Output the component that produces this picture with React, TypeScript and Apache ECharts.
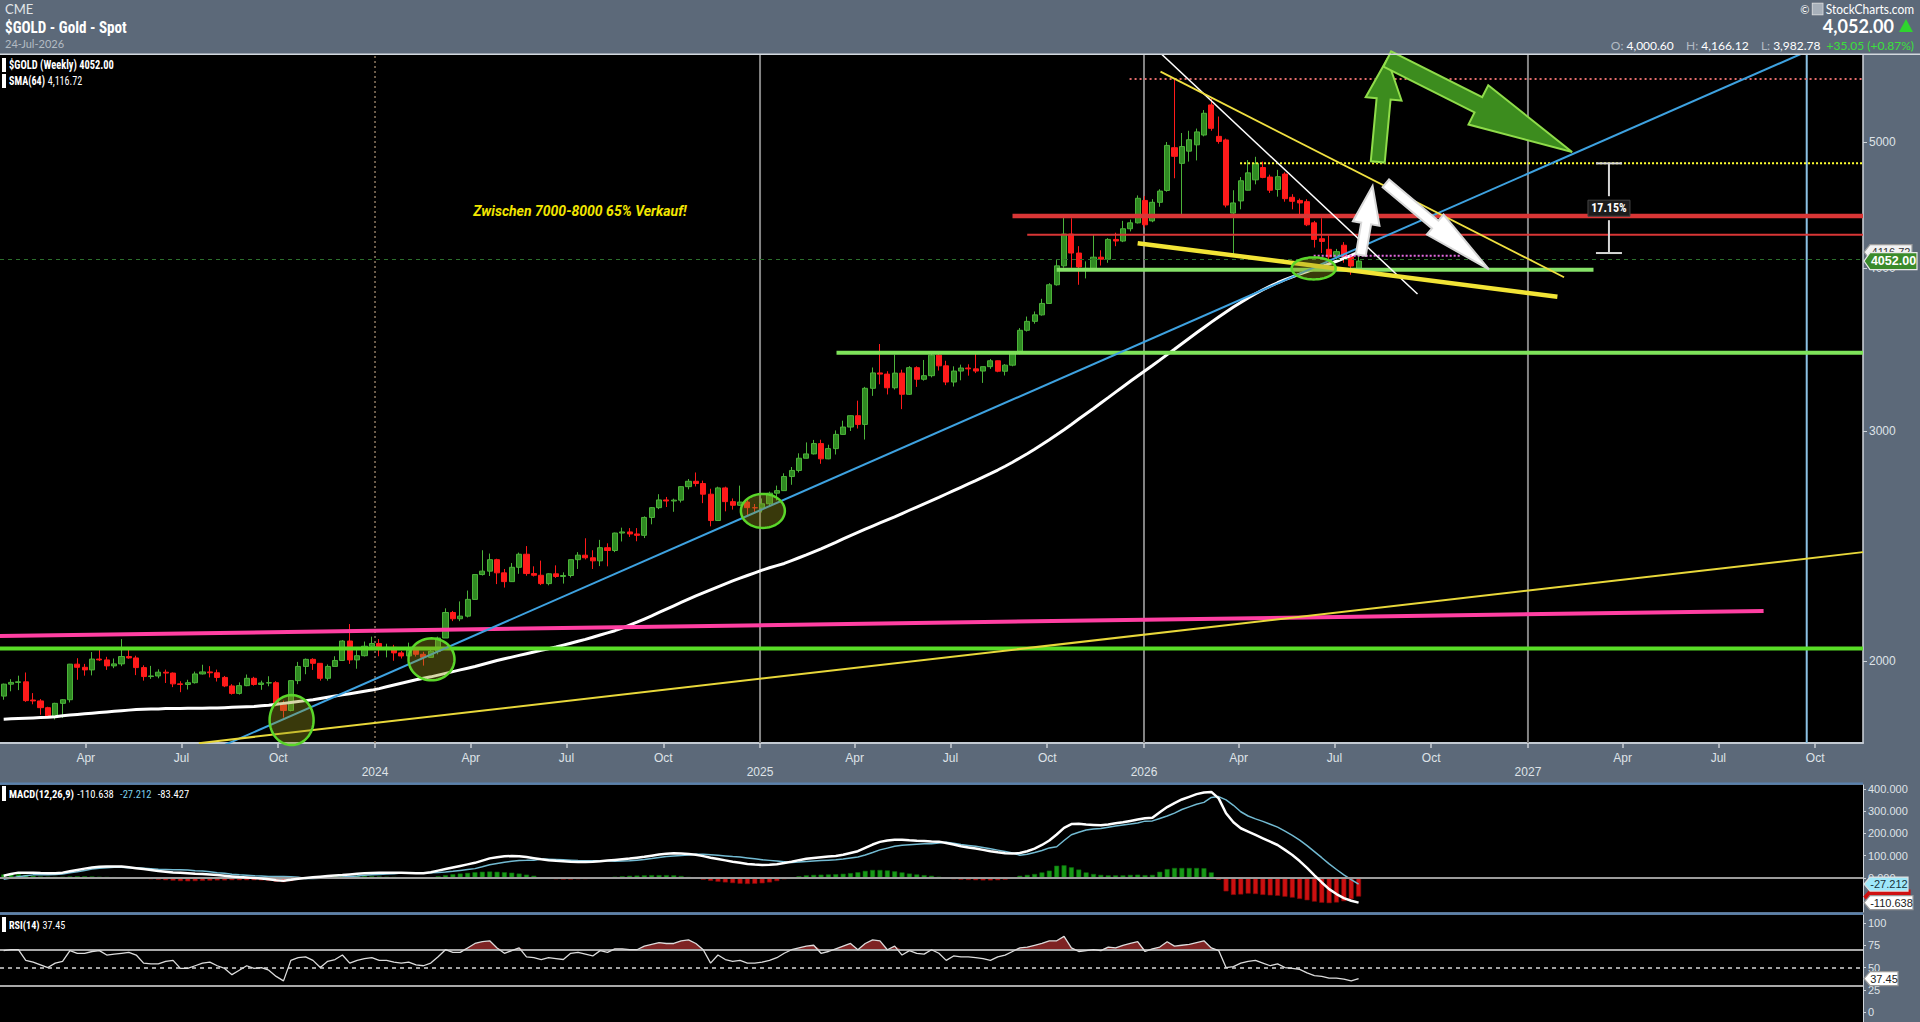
import React, { useEffect, useRef } from "react";
import * as echarts from "echarts";

// ---------------- time axis ----------------
const FIRST_WEEK = "2023-01-13"; // first weekly bar (Friday)
const SLOT_COUNT = 253; // weekly slots shown on the axis (bars + empty future)

// ---------------- weekly bars: [open, high, low, close] ----------------
const gold2023 = [
  [1880, 1922, 1868, 1920], [1920, 1937, 1896, 1926], [1926, 1949, 1900, 1928], [1928, 1960, 1861, 1865],
  [1867, 1890, 1853, 1864], [1864, 1870, 1819, 1842], [1842, 1845, 1809, 1811], [1811, 1858, 1804, 1856],
  [1856, 1870, 1809, 1868], [1868, 1990, 1859, 1989], [1989, 2010, 1935, 1978], [1978, 1990, 1949, 1969],
  [1969, 2032, 1950, 2007], [2007, 2048, 2000, 2004], [2004, 2015, 1969, 1983], [1983, 2009, 1975, 1990],
  [1990, 2079, 1982, 2016], [2016, 2048, 2008, 2011], [2011, 2019, 1951, 1977], [1977, 1985, 1932, 1946],
  [1946, 1983, 1938, 1948], [1948, 1971, 1940, 1961], [1961, 1970, 1924, 1958], [1958, 1960, 1910, 1921],
  [1921, 1930, 1893, 1919], [1919, 1935, 1902, 1925], [1925, 1963, 1922, 1955], [1955, 1987, 1953, 1962],
  [1962, 1982, 1943, 1959], [1959, 1970, 1929, 1943], [1943, 1948, 1910, 1914], [1914, 1920, 1885, 1889],
  [1889, 1926, 1885, 1915], [1915, 1953, 1913, 1940], [1940, 1945, 1915, 1919], [1919, 1932, 1901, 1924],
  [1924, 1947, 1913, 1925], [1925, 1930, 1846, 1852], [1852, 1865, 1810, 1833], [1833, 1933, 1830, 1932],
  [1932, 1997, 1920, 1981], [1981, 2009, 1954, 2006], [2006, 2010, 1969, 1992], [1992, 1993, 1932, 1940],
  [1940, 1988, 1932, 1981], [1981, 2017, 1980, 2002], [2002, 2075, 2000, 2072], [2072, 2135, 1990, 2004],
  [2004, 2047, 1973, 2019], [2019, 2070, 2016, 2053], [2053, 2088, 2040, 2063],
];
const gold2024 = [
  [2063, 2079, 2017, 2045], [2045, 2062, 2013, 2049], [2049, 2058, 2001, 2029], [2029, 2036, 2009, 2018],
  [2018, 2066, 2015, 2039], [2039, 2045, 2016, 2024], [2024, 2033, 1984, 2013], [2013, 2041, 2012, 2035],
  [2035, 2088, 2024, 2083], [2083, 2195, 2083, 2179], [2179, 2185, 2146, 2155], [2155, 2222, 2146, 2165],
  [2165, 2265, 2160, 2230], [2230, 2331, 2229, 2330], [2330, 2432, 2326, 2344], [2344, 2418, 2324, 2392],
  [2392, 2396, 2291, 2337], [2337, 2353, 2277, 2301], [2301, 2378, 2300, 2360], [2360, 2422, 2333, 2415],
  [2415, 2450, 2325, 2334], [2334, 2364, 2322, 2327], [2327, 2388, 2287, 2293], [2293, 2335, 2286, 2333],
  [2333, 2368, 2316, 2322], [2322, 2339, 2293, 2326], [2326, 2392, 2318, 2392], [2392, 2424, 2353, 2411],
  [2411, 2484, 2393, 2400], [2400, 2432, 2353, 2387], [2387, 2477, 2365, 2443], [2443, 2462, 2364, 2431],
  [2431, 2509, 2424, 2507], [2507, 2531, 2470, 2512], [2512, 2529, 2490, 2503], [2503, 2529, 2471, 2497],
  [2497, 2582, 2485, 2577], [2577, 2625, 2546, 2622], [2622, 2685, 2615, 2658], [2658, 2672, 2625, 2653],
  [2653, 2664, 2603, 2657], [2657, 2723, 2646, 2721], [2721, 2758, 2708, 2747], [2747, 2790, 2722, 2736],
  [2736, 2750, 2643, 2685], [2685, 2711, 2537, 2563], [2563, 2721, 2563, 2715], [2715, 2721, 2605, 2650],
  [2650, 2665, 2613, 2633], [2633, 2726, 2630, 2648], [2648, 2665, 2583, 2622], [2622, 2639, 2600, 2621],
];
const gold2025 = [
  [2621, 2665, 2600, 2640], [2640, 2697, 2630, 2690], [2690, 2726, 2656, 2702], [2702, 2786, 2700, 2770],
  [2770, 2817, 2730, 2800], [2800, 2886, 2790, 2861], [2861, 2942, 2860, 2883], [2883, 2955, 2880, 2936],
  [2936, 2956, 2833, 2858], [2858, 2930, 2856, 2910], [2910, 3005, 2880, 2984], [2984, 3057, 2982, 3023],
  [3023, 3086, 3002, 3084], [3084, 3167, 3015, 3037], [3037, 3245, 2957, 3237], [3237, 3358, 3194, 3326],
  [3326, 3500, 3260, 3319], [3319, 3336, 3202, 3240], [3240, 3435, 3230, 3325], [3325, 3345, 3120, 3203],
  [3203, 3366, 3200, 3357], [3357, 3365, 3245, 3289], [3289, 3403, 3281, 3310], [3310, 3446, 3300, 3432],
  [3432, 3452, 3340, 3368], [3368, 3398, 3255, 3273], [3273, 3365, 3247, 3337], [3337, 3375, 3283, 3355],
  [3355, 3377, 3310, 3350], [3350, 3439, 3325, 3337], [3337, 3363, 3268, 3363], [3363, 3409, 3350, 3398],
  [3398, 3400, 3330, 3336], [3336, 3378, 3311, 3372], [3372, 3453, 3365, 3448], [3448, 3600, 3437, 3586],
  [3586, 3674, 3578, 3643], [3643, 3707, 3628, 3685], [3685, 3791, 3680, 3760], [3760, 3897, 3757, 3886],
  [3886, 4059, 3880, 4018], [4018, 4380, 4005, 4250], [4250, 4370, 4004, 4110], [4110, 4160, 3886, 4010],
  [3985, 4050, 3930, 4000], [3990, 4245, 3985, 4080], [4080, 4130, 4020, 4065], [4065, 4220, 4040, 4210],
  [4210, 4260, 4160, 4198], [4198, 4350, 4190, 4290], [4290, 4360, 4270, 4335], [4335, 4550, 4330, 4527],
];
const gold2026 = [
  [4510, 4545, 4300, 4320], [4350, 4520, 4340, 4495], [4495, 4600, 4460, 4585], [4590, 5000, 4580, 4970],
  [4950, 5580, 4690, 4875], [4815, 5080, 4400, 4960], [4920, 5100, 4830, 5020], [4975, 5120, 4840, 5090],
  [5062, 5290, 5050, 5260], [5338, 5400, 5100, 5122], [5050, 5230, 4985, 5005], [5018, 5030, 4455, 4473],
  [4410, 4592, 4082, 4490], [4506, 4700, 4440, 4669], [4592, 4843, 4590, 4735], [4677, 4871, 4640, 4815],
  [4780, 4830, 4690, 4697], [4700, 4720, 4570, 4592], [4598, 4760, 4540, 4703], [4725, 4740, 4500, 4524],
  [4535, 4560, 4440, 4503], [4510, 4525, 4398, 4490], [4500, 4520, 4310, 4320], [4335, 4350, 4150, 4210],
  [4215, 4370, 4110, 4195], [4137, 4240, 4040, 4082], [4082, 4140, 4050, 4120], [4167, 4190, 4040, 4082],
  [4082, 4100, 3955, 4016.95], [4000.6, 4166.12, 3982.78, 4052.0],
];

// ---------------- SMA(64) ----------------
const sma2023 = [
  1805, 1806, 1807, 1808, 1809, 1810, 1811, 1813, 1816, 1818, 1820, 1822, 1824, 1826, 1828, 1830, 1832, 1834,
  1836, 1837, 1838, 1838, 1839, 1839, 1839, 1840, 1840, 1840, 1841, 1841, 1842, 1843, 1844, 1845, 1846, 1848,
  1850, 1853, 1856, 1859, 1862, 1865, 1868, 1872, 1876, 1880, 1884, 1888, 1892, 1896, 1900,
];
const sma2024 = [
  1905, 1911, 1917, 1923, 1929, 1935, 1940, 1945, 1951, 1957, 1963, 1969, 1975, 1981, 1988, 1995, 2002, 2008,
  2014, 2020, 2026, 2032, 2038, 2044, 2050, 2057, 2064, 2071, 2078, 2086, 2094, 2102, 2110, 2120, 2131, 2142,
  2154, 2166, 2179, 2192, 2205, 2218, 2231, 2244, 2256, 2268, 2280, 2292, 2304, 2315, 2326, 2337,
];
const sma2025 = [
  2348, 2358, 2367, 2376, 2388, 2400, 2412, 2425, 2438, 2452, 2466, 2481, 2496, 2510, 2524, 2538, 2552, 2566,
  2580, 2595, 2610, 2625, 2640, 2655, 2670, 2686, 2702, 2718, 2734, 2750, 2767, 2784, 2802, 2821, 2841, 2862,
  2884, 2907, 2931, 2956, 2982, 3009, 3037, 3066, 3095, 3124, 3154, 3184, 3215, 3246, 3277, 3308,
];
const sma2026 = [
  3339, 3370, 3402, 3435, 3468, 3502, 3536, 3570, 3604, 3638, 3671, 3704, 3736, 3767, 3797, 3825, 3852, 3877,
  3900, 3921, 3941, 3960, 3978, 3996, 4014, 4032, 4051, 4071, 4093, 4116.72,
];

// ---------------- MACD(12,26,9): line and histogram ----------------
const macd2023 = [
  10, 18, 24, 24, 24, 22, 21, 21, 24, 30, 36, 42, 47, 50, 51, 52, 51, 48, 44, 40, 36, 31, 28, 25, 23, 21, 19, 18,
  16, 13, 10, 7, 4, 2, 0, -2, -6, -10, -12, -8, -3, 0, 3, 6, 9, 11, 13, 16, 19, 21, 22,
];
const macd2024 = [
  23, 24, 24, 23, 22, 21, 21, 26, 33, 40, 47, 54, 61, 68, 78, 88, 93, 97, 99, 98, 94, 89, 84, 80, 77, 75, 73, 72,
  72, 73, 75, 78, 81, 84, 87, 91, 95, 100, 105, 109, 111, 110, 108, 104, 98, 91, 85, 79, 73, 68, 63, 60,
];
const macd2025 = [
  58, 59, 62, 67, 73, 80, 86, 90, 93, 96, 99, 104, 112, 120, 135, 150, 162, 168, 172, 172, 169, 167, 166, 164, 163,
  157, 150, 142, 137, 132, 126, 120, 115, 111, 110, 112, 120, 132, 148, 168, 195, 225, 242, 243, 240, 238, 236,
  240, 245, 250, 256, 262,
];
const macd2026 = [
  268, 270, 295, 318, 336, 352, 364, 376, 383, 386, 357, 290, 250, 223, 208, 193, 178, 163, 148, 126, 103, 76, 45,
  12, -20, -50, -72, -90, -102, -110.6384,
];
const hist2023 = [
  16, 18, 18, 14, 10, 7, 6, 5, 6, 7, 8, 8, 7, 6, 5, 4, 3, 2, -2, -4, -6, -8, -10, -12, -14, -15, -14, -13, -12, -11,
  -11, -10, -10, -10, -10, -11, -13, -17, -19, -14, -6, 2, 5, 7, 8, 9, 9, 9, 10, 9, 8,
];
const hist2024 = [
  7, 6, 5, 1, -1, -3, -3, 2, 8, 13, 17, 20, 23, 26, 28, 29, 28, 26, 24, 20, 15, 10, -1, -4, -6, -7, -7, -6, -5, -4,
  -2, 1, 6, 8, 10, 11, 12, 13, 13, 13, 12, 9, 5, -2, -8, -13, -17, -20, -23, -26, -27, -26,
];
const hist2025 = [
  -24, -20, -14, -6, 3, 8, 12, 14, 15, 16, 17, 19, 22, 26, 32, 36, 36, 34, 30, 25, 20, 16, 13, 10, 6, -3, -6, -8,
  -9, -10, -11, -11, -10, -8, -2, 10, 14, 18, 25, 33, 55, 57, 48, 38, 25, 18, 14, 12, 12, 12, 14, 15,
];
const hist2026 = [
  13, 14, 28, 40, 45, 45, 45, 45, 44, 25, -8, -60, -76, -74, -70, -72, -76, -78, -80, -84, -88, -94, -100, -106,
  -111, -113, -110, -104, -95, -83.4268,
];

// ---------------- RSI(14) ----------------
const rsi2023 = [
  69, 70, 70, 58, 56, 53, 50, 55, 57, 69, 66, 66, 68, 69, 64, 65, 66, 67, 64, 55, 54, 54, 57, 58, 49, 49, 52, 55,
  56, 52, 49, 42, 47, 52, 49, 50, 47, 40, 35, 58, 61, 62, 58, 50, 57, 59, 64, 55, 58, 60, 61,
];
const rsi2024 = [
  58, 58, 56, 55, 56, 53, 52, 55, 62, 70, 67, 67, 72, 77, 79, 80, 72, 66, 69, 72, 62, 61, 59, 61, 60, 59, 66, 67,
  65, 63, 69, 67, 71, 71, 70, 70, 74, 76, 78, 77, 77, 80, 81, 77, 70, 55, 64, 59, 57, 58, 55, 55,
];
const rsi2025 = [
  56, 58, 61, 66, 70, 72, 74, 75, 66, 68, 71, 74, 77, 70, 77, 81, 80, 70, 74, 64, 69, 66, 65, 70, 66, 58, 63, 62,
  62, 61, 60, 58, 62, 64, 68, 72, 73, 75, 77, 80, 80, 85, 72, 68, 69, 70, 69, 73, 72, 75, 77, 79,
];
const rsi2026 = [
  68, 71, 73, 79, 74, 75, 76, 78, 80, 72, 69, 50, 51, 55, 57, 58, 55, 52, 54, 50, 49, 48, 44, 41, 40, 38, 38, 37,
  35, 37.45,
];

// ---------------- axes ----------------
const priceTicks = [2000, 3000, 4000, 5000];
const macdTicks = [0, 100, 200, 300, 400];
const rsiTicks = [0, 25, 50, 75, 100];
const PRICE_RANGE = [1730.6, 5830];
const MACD_RANGE = [-152.5, 417];
const RSI_RANGE = [-11.2, 109];

// ---------------- drawn annotations (x = week number, 0 = 2023-01-13; y = price) ----------------
const yearLineDates = ["2024-01-01", "2025-01-01", "2026-01-01", "2027-01-01"];
const cycleLineDate = "2027-09-23";
const supportBase = { from: -0.5, price: 2045 };
const supportBreakout = { from: 113.1, price: 3447 };
const supportNeck = { from: 143.0, to: 215.9, price: 3990 };
const resistThick = { from: 137.0, price: 4388 };
const resistThin = { from: 139.0, price: 4245 };
const highDotted = { from: 152.9, price: 5588 };
const targetDotted = { from: 167.9, price: 4815 };
const pinkDotted = { from: 177.9, to: 197.8, price: 4091 };
const pinkTrend = [[-0.5, 2090], [239, 2185]];
const blueTrend = [[28, 1705], [250, 6041]];
const yellowLongTrend = [[26.5, 1730], [252.5, 2424]];
const whiteDownTrend = [[156.5, 5892], [192, 3823]];
const yellowDownTrend = [[157.1, 5661], [211.9, 3938]];
const yellowWedge = [[154, 4182], [211, 3805]];
const ellipseCentres = [[39.1, 1802], [58.1, 2006], [103.1, 2607], [177.9, 4000]];
const arrowPaths = [
  [[186.6, 4827], [187.9, 5789]],
  [[187.9, 5789], [213.0, 4912]],
  [[184.3, 4096], [185.9, 4626]],
  [[187.7, 4648], [201.7, 3993]],
];
const moveMeasure = { week: 218, top: 4815, bottom: 4110 };
const noteText = "Zwischen 7000-8000 65% Verkauf!";

// ---------------- styles ----------------
const FONT = '"Roboto Condensed", Roboto, "Noto Sans", sans-serif';
const ARIAL = '"Liberation Sans", Arial, "DejaVu Sans", sans-serif';
const HEAD_FONT = 'Lato, "Noto Sans", Roboto, sans-serif';
const BAND = "#5c6979";
const ELLIPSE_RADII = [[22, 25], [23, 21], [22, 17], [22, 11]];
const ARROW_STYLES = [
  { shaft: 14, headW: 36, headL: 40, fill: "#3c8c1e", stroke: "#8fdc4a" },
  { shaft: 17, headW: 44, headL: 105, fill: "#3c8c1e", stroke: "#8fdc4a" },
  { shaft: 10, headW: 27, headL: 38, fill: "#ffffff", stroke: "#d8d8d8" },
  { shaft: 10, headW: 26, headL: 70, fill: "#ffffff", stroke: "#d8d8d8" },
];

// ---------------- helpers ----------------
const LN = Math.log;
const DAY = 86400000;
const parseDay = (s: string) => {
  const [y, m, d] = s.split("-").map(Number);
  return Date.UTC(y, m - 1, d);
};
const T0 = parseDay(FIRST_WEEK);
const weekPos = (s: string) => (parseDay(s) - T0) / (7 * DAY);
const weekDate = (i: number) => new Date(T0 + i * 7 * DAY).toISOString().slice(0, 10);
const MONTHS = ["Jan", "Feb", "Mar", "Apr", "May", "Jun", "Jul", "Aug", "Sep", "Oct", "Nov", "Dec"];
const fmt = (v: number, d = 2) =>
  v.toLocaleString("en-US", { minimumFractionDigits: d, maximumFractionDigits: d });

function buildOption() {
  const rows = [...gold2023, ...gold2024, ...gold2025, ...gold2026];
  const sma = [...sma2023, ...sma2024, ...sma2025, ...sma2026];
  const macd = [...macd2023, ...macd2024, ...macd2025, ...macd2026];
  const hist = [...hist2023, ...hist2024, ...hist2025, ...hist2026];
  const signal = macd.map((m, i) => m - hist[i]);
  const rsi = [...rsi2023, ...rsi2024, ...rsi2025, ...rsi2026];
  const cats = Array.from({ length: SLOT_COUNT }, (_, i) => weekDate(i));
  const X_MIN = -0.5;
  const X_MAX = SLOT_COUNT - 0.5;
  const yMin = LN(PRICE_RANGE[0]);
  const yMax = LN(PRICE_RANGE[1]);
  const n = rows.length;
  const last = rows[n - 1];
  const prevClose = rows[n - 2][3];
  const change = last[3] - prevClose;
  const changePct = (change / prevClose) * 100;
  const lastDate = new Date(T0 + (n - 1) * 7 * DAY);
  const dateLabel = `${String(lastDate.getUTCDate()).padStart(2, "0")}-${MONTHS[lastDate.getUTCMonth()]}-${lastDate.getUTCFullYear()}`;

  // quarter marks for the date axis
  const quarterMarks: { pos: number; label: string }[] = [];
  for (let y = 2023; y <= 2027; y++) {
    for (const m of [0, 3, 6, 9]) {
      const pos = weekPos(`${y}-${String(m + 1).padStart(2, "0")}-01`);
      if (pos > X_MIN && pos < X_MAX) quarterMarks.push({ pos, label: m === 0 ? `\n${y}` : MONTHS[m] });
    }
  }
  const qVals = quarterMarks.map((q) => q.pos);

  const lineS = (pts: number[][], style: any, z = 5) => ({
    type: "line",
    xAxisIndex: 1,
    yAxisIndex: 0,
    data: pts.map(([w, p]) => [w, LN(p)]),
    symbol: "none",
    silent: true,
    clip: true,
    lineStyle: style,
    z,
  });
  const levelS = (lv: { from: number; to?: number; price: number }, style: any, z = 5) =>
    lineS([[lv.from, lv.price], [lv.to ?? X_MAX, lv.price]], style, z);

  const tagSeries = (xAxisIndex: number, yAxisIndex: number, tags: any[], toAxis: (v: number) => number) => ({
    type: "custom",
    xAxisIndex,
    yAxisIndex,
    clip: false,
    silent: true,
    z: 30,
    data: tags.map((t) => [0, toAxis(t.value)]),
    renderItem: (params: any, api: any) => {
      const t = tags[params.dataIndex];
      const y = api.coord([0, api.value(1)])[1];
      const x0 = params.coordSys.x + params.coordSys.width + 1;
      const w = t.w;
      const h = t.h;
      const children: any[] = [
        {
          type: "polygon",
          shape: { points: [[x0, y], [x0 + 6, y - h / 2], [x0 + w, y - h / 2], [x0 + w, y + h / 2], [x0 + 6, y + h / 2]] },
          style: { fill: t.bg, stroke: t.border, lineWidth: 1.2 },
        },
      ];
      if (t.text) {
        children.push({
          type: "text",
          style: {
            text: t.text,
            x: x0 + 3 + w / 2,
            y,
            align: "center",
            verticalAlign: "middle",
            fill: t.color,
            fontSize: t.size,
            fontWeight: t.bold ? "bold" : "normal",
            fontFamily: ARIAL,
          },
        });
      }
      return { type: "group", children };
    },
  });

  const axisLabelStyle = { color: "#dfe3e8", fontFamily: ARIAL };
  const txt = (text: string, x: number, y: number, style: any, scaleX = 1) => ({
    type: "text",
    z: 100,
    silent: true,
    x,
    y,
    scaleX,
    style: { text, x: 0, y: 0, verticalAlign: "middle", ...style },
  });

  return {
    animation: false,
    backgroundColor: BAND,
    textStyle: { fontFamily: ARIAL },
    grid: [
      { left: -2, right: 57, top: 55, height: 688, show: true, backgroundColor: "#000", borderWidth: 0 },
      { left: -2, right: 57, top: 785, height: 127, show: true, backgroundColor: "#000", borderWidth: 0 },
      { left: -2, right: 57, top: 915, height: 107, show: true, backgroundColor: "#000", borderWidth: 0 },
    ],
    xAxis: [
      { type: "category", gridIndex: 0, data: cats, show: false, position: "bottom", boundaryGap: true },
      {
        type: "value",
        gridIndex: 0,
        position: "bottom",
        min: X_MIN,
        max: X_MAX,
        axisLine: { show: true, onZero: false, lineStyle: { color: "#c3cad2", width: 2 } },
        axisTick: { show: true, customValues: qVals, length: 5, lineStyle: { color: "#c8ced4", width: 1.5 } },
        splitLine: { show: false },
        axisLabel: {
          ...axisLabelStyle,
          customValues: qVals,
          fontSize: 12,
          lineHeight: 14,
          margin: 8,
          hideOverlap: false,
          formatter: (v: number) => {
            const q = quarterMarks.find((m) => Math.abs(m.pos - v) < 1e-6);
            return q ? q.label : "";
          },
        },
      },
      { type: "category", gridIndex: 1, data: cats, show: false, position: "bottom" },
      { type: "category", gridIndex: 2, data: cats, show: false, position: "bottom" },
    ],
    yAxis: [
      {
        type: "value",
        gridIndex: 0,
        position: "right",
        min: yMin,
        max: yMax,
        splitLine: { show: false },
        axisLine: { show: true, onZero: false, lineStyle: { color: "#cfd5db", width: 1.5 } },
        axisTick: { show: true, customValues: priceTicks.map(LN), length: 4, lineStyle: { color: "#cfd5db" } },
        axisLabel: {
          ...axisLabelStyle,
          fontSize: 12,
          margin: 6,
          customValues: priceTicks.map(LN),
          formatter: (v: number) => String(Math.round(Math.exp(v))),
        },
      },
      {
        type: "value",
        gridIndex: 1,
        position: "right",
        min: MACD_RANGE[0],
        max: MACD_RANGE[1],
        splitLine: { show: false },
        axisLine: { show: true, onZero: false, lineStyle: { color: "#cfd5db", width: 1 } },
        axisTick: { show: true, customValues: macdTicks, length: 3, lineStyle: { color: "#cfd5db" } },
        axisLabel: { ...axisLabelStyle, fontSize: 11, margin: 5, customValues: macdTicks, formatter: (v: number) => v.toFixed(3) },
      },
      {
        type: "value",
        gridIndex: 2,
        position: "right",
        min: RSI_RANGE[0],
        max: RSI_RANGE[1],
        splitLine: { show: false },
        axisLine: { show: true, onZero: false, lineStyle: { color: "#cfd5db", width: 1 } },
        axisTick: { show: true, customValues: rsiTicks, length: 3, lineStyle: { color: "#cfd5db" } },
        axisLabel: { ...axisLabelStyle, fontSize: 11, margin: 5, customValues: rsiTicks, formatter: (v: number) => String(v) },
      },
    ],
    series: [
      // year separators
      ...yearLineDates.map((d, k) =>
        lineS(
          [[weekPos(d), PRICE_RANGE[0]], [weekPos(d), PRICE_RANGE[1]]],
          k === 0 ? { color: "#8f7a62", width: 1.5, type: [2, 3] } : { color: "#838383", width: 2 },
          1
        )
      ),
      lineS([[weekPos(cycleLineDate), PRICE_RANGE[0]], [weekPos(cycleLineDate), PRICE_RANGE[1]]], { color: "#8cc2e4", width: 2 }, 1),
      // candles
      {
        type: "candlestick",
        name: "$GOLD",
        xAxisIndex: 0,
        yAxisIndex: 0,
        data: rows.map(([o, h, l, c]) => [LN(o), LN(c), LN(l), LN(h)]),
        barWidth: 5.6,
        z: 3,
        itemStyle: { color: "#2f8a22", color0: "#ff1a1a", borderColor: "#4cb23a", borderColor0: "#ff1a1a", borderWidth: 1 },
        markLine: {
          silent: true,
          symbol: "none",
          label: { show: false },
          lineStyle: { color: "#2c6e2c", type: [4, 4], width: 1 },
          data: [{ yAxis: LN(last[3]) }],
        },
      },
      // SMA
      {
        type: "line",
        name: "SMA(64)",
        xAxisIndex: 0,
        yAxisIndex: 0,
        data: sma.map(LN),
        symbol: "none",
        silent: true,
        z: 4,
        lineStyle: { color: "#ffffff", width: 3 },
      },
      // horizontal levels
      lineS(pinkTrend, { color: "#ff3fa2", width: 4 }),
      levelS(supportBase, { color: "#58dc26", width: 4 }),
      levelS(supportBreakout, { color: "#7ee35a", width: 4 }),
      levelS(supportNeck, { color: "#86e268", width: 4 }),
      levelS(resistThick, { color: "#d93636", width: 4.5 }),
      levelS(resistThin, { color: "#d93636", width: 2 }),
      levelS(highDotted, { color: "#e06a6a", width: 2, type: [2, 3] }),
      levelS(targetDotted, { color: "#ffff30", width: 2, type: [2, 2] }),
      levelS(pinkDotted, { color: "#e46ae0", width: 2, type: [2, 2] }),
      // trend lines
      lineS(blueTrend, { color: "#3ea2e0", width: 2 }),
      lineS(yellowLongTrend, { color: "#e8d83a", width: 2 }),
      lineS(whiteDownTrend, { color: "#ffffff", width: 1.5 }),
      lineS(yellowDownTrend, { color: "#f0e040", width: 1.8 }),
      lineS(yellowWedge, { color: "#f2e436", width: 4.5 }),
      // circles
      {
        type: "custom",
        xAxisIndex: 1,
        yAxisIndex: 0,
        silent: true,
        z: 6,
        data: ellipseCentres.map(([w, p]) => [w, LN(p)]),
        renderItem: (params: any, api: any) => {
          const c = api.coord([api.value(0), api.value(1)]);
          const [rx, ry] = ELLIPSE_RADII[params.dataIndex];
          const pts: number[][] = [];
          for (let k = 0; k < 64; k++) {
            const a = (k / 64) * Math.PI * 2;
            pts.push([c[0] + rx * Math.cos(a), c[1] + ry * Math.sin(a)]);
          }
          return {
            type: "polygon",
            shape: { points: pts },
            style: { fill: "rgba(150,150,30,0.38)", stroke: "#5ad62a", lineWidth: 2.5 },
          };
        },
      },
      // arrows
      {
        type: "custom",
        xAxisIndex: 1,
        yAxisIndex: 0,
        silent: true,
        z: 7,
        data: arrowPaths.map(([a, b]) => [a[0], LN(a[1]), b[0], LN(b[1])]),
        renderItem: (params: any, api: any) => {
          const s = ARROW_STYLES[params.dataIndex];
          const t = api.coord([api.value(0), api.value(1)]);
          const p = api.coord([api.value(2), api.value(3)]);
          const dx = p[0] - t[0];
          const dy = p[1] - t[1];
          const len = Math.hypot(dx, dy);
          const ux = dx / len;
          const uy = dy / len;
          const nx = -uy;
          const ny = ux;
          const bx = p[0] - ux * s.headL;
          const by = p[1] - uy * s.headL;
          const pts = [
            [t[0] + (nx * s.shaft) / 2, t[1] + (ny * s.shaft) / 2],
            [bx + (nx * s.shaft) / 2, by + (ny * s.shaft) / 2],
            [bx + (nx * s.headW) / 2, by + (ny * s.headW) / 2],
            [p[0], p[1]],
            [bx - (nx * s.headW) / 2, by - (ny * s.headW) / 2],
            [bx - (nx * s.shaft) / 2, by - (ny * s.shaft) / 2],
            [t[0] - (nx * s.shaft) / 2, t[1] - (ny * s.shaft) / 2],
          ];
          return { type: "polygon", shape: { points: pts }, style: { fill: s.fill, stroke: s.stroke, lineWidth: 2 } };
        },
      },
      // percentage measurement
      {
        type: "custom",
        xAxisIndex: 1,
        yAxisIndex: 0,
        silent: true,
        z: 7,
        data: [[moveMeasure.week, LN(moveMeasure.top), LN(moveMeasure.bottom)]],
        renderItem: (params: any, api: any) => {
          const top = api.coord([api.value(0), api.value(1)]);
          const bot = api.coord([api.value(0), api.value(2)]);
          const x = top[0];
          const mid = (top[1] + bot[1]) / 2;
          const pct = ((Math.exp(api.value(1)) / Math.exp(api.value(2)) - 1) * 100).toFixed(2) + "%";
          const st = { stroke: "#d6d6d6", lineWidth: 2 };
          return {
            type: "group",
            children: [
              { type: "line", shape: { x1: x, y1: top[1], x2: x, y2: mid - 12 }, style: st },
              { type: "line", shape: { x1: x, y1: mid + 12, x2: x, y2: bot[1] }, style: st },
              { type: "line", shape: { x1: x - 13, y1: top[1], x2: x + 13, y2: top[1] }, style: st },
              { type: "line", shape: { x1: x - 13, y1: bot[1], x2: x + 13, y2: bot[1] }, style: st },
              { type: "rect", shape: { x: x - 21, y: mid - 8, width: 42, height: 16 }, style: { fill: "#1c1c1c", stroke: "#444", lineWidth: 1 } },
              {
                type: "text",
                style: { text: pct, x, y: mid, align: "center", verticalAlign: "middle", fill: "#ffffff", fontSize: 12, fontWeight: "bold", fontFamily: FONT },
              },
            ],
          };
        },
      },
      // price tags
      tagSeries(
        1,
        0,
        [
          { value: sma[n - 1], text: sma[n - 1].toFixed(2), bg: "#f2f2f2", color: "#333", border: "#9a9a9a", w: 48, h: 15, size: 11 },
          { value: last[3], text: last[3].toFixed(2), bg: "#3a8b2b", color: "#ffffff", border: "#e8e8e8", w: 53, h: 17, size: 12.5, bold: true },
        ],
        LN
      ),
      // MACD
      {
        type: "bar",
        xAxisIndex: 2,
        yAxisIndex: 1,
        barWidth: 5,
        silent: true,
        data: hist.map((v) => ({
          value: v,
          itemStyle: {
            color: v >= 0 ? "#179a17" : "#cc1010",
            borderColor: v >= 0 ? "#0c6a0c" : "#800808",
            borderWidth: 0.6,
          },
        })),
        markLine: {
          silent: true,
          symbol: "none",
          label: { show: false },
          lineStyle: { color: "#9c9c9c", width: 2, type: "solid" },
          data: [{ yAxis: 0 }],
        },
      },
      {
        type: "line",
        xAxisIndex: 2,
        yAxisIndex: 1,
        data: signal,
        symbol: "none",
        silent: true,
        z: 4,
        lineStyle: { color: "#72bad2", width: 1.5 },
      },
      {
        type: "line",
        xAxisIndex: 2,
        yAxisIndex: 1,
        data: macd,
        symbol: "none",
        silent: true,
        z: 5,
        lineStyle: { color: "#ffffff", width: 2.5 },
      },
      tagSeries(
        2,
        1,
        [
          { value: hist[n - 1], text: "", bg: "#d01010", color: "#fff", border: "#d01010", w: 46, h: 13, size: 11 },
          { value: signal[n - 1], text: signal[n - 1].toFixed(3), bg: "#9fe8fa", color: "#17323a", border: "#e0e0e0", w: 44, h: 14, size: 11 },
          { value: macd[n - 1], text: macd[n - 1].toFixed(3), bg: "#ffffff", color: "#222", border: "#999", w: 49, h: 14, size: 11 },
        ],
        (v) => v
      ),
      // RSI
      {
        type: "line",
        xAxisIndex: 3,
        yAxisIndex: 2,
        data: rsi.map(() => 70),
        stack: "overbought",
        symbol: "none",
        silent: true,
        lineStyle: { opacity: 0, width: 0 },
      },
      {
        type: "line",
        xAxisIndex: 3,
        yAxisIndex: 2,
        data: rsi.map((v) => Math.max(v - 70, 0)),
        stack: "overbought",
        symbol: "none",
        silent: true,
        lineStyle: { opacity: 0, width: 0 },
        areaStyle: { color: "#7e2424", opacity: 1 },
      },
      {
        type: "line",
        xAxisIndex: 3,
        yAxisIndex: 2,
        data: rsi,
        symbol: "none",
        silent: true,
        z: 5,
        lineStyle: { color: "#dcdcdc", width: 1.3 },
        markLine: {
          silent: true,
          symbol: "none",
          label: { show: false },
          data: [
            { yAxis: 70, lineStyle: { color: "#a8a8a8", width: 2, type: "solid" } },
            { yAxis: 30, lineStyle: { color: "#a8a8a8", width: 2, type: "solid" } },
            { yAxis: 50, lineStyle: { color: "#d6d6d6", width: 1.5, type: [4, 4] } },
          ],
        },
      },
      tagSeries(3, 2, [{ value: rsi[n - 1], text: rsi[n - 1].toFixed(2), bg: "#ffffff", color: "#222", border: "#999", w: 34, h: 14, size: 11 }], (v) => v),
    ],
    graphic: [
      // separators
      { type: "rect", z: 100, silent: true, shape: { x: 0, y: 53.5, width: 1920, height: 1.5 }, style: { fill: "#d3d9df" } },
      { type: "rect", z: 100, silent: true, shape: { x: 0, y: 782.5, width: 1863, height: 2.2 }, style: { fill: "#5b82ad" } },
      { type: "rect", z: 100, silent: true, shape: { x: 0, y: 912.5, width: 1863, height: 2.2 }, style: { fill: "#5b82ad" } },
      // header left
      txt("CME", 5, 9, { fill: "#e2e6ea", fontSize: 13, fontFamily: HEAD_FONT }),
      txt("$GOLD - Gold - Spot", 5, 27, { fill: "#ffffff", fontSize: 17, fontWeight: "bold", fontFamily: FONT }, 0.89),
      txt(dateLabel, 5, 43, { fill: "#b4bcc4", fontSize: 11, fontFamily: HEAD_FONT }),
      // header right
      txt(
        "{c|©} {i|}{t| StockCharts.com}",
        1914,
        9,
        {
          align: "right",
          rich: {
            c: { fill: "#ffffff", fontSize: 12, fontFamily: HEAD_FONT },
            i: { width: 11, height: 11, backgroundColor: "#a7b0ba", borderColor: "#e0e0e0", borderWidth: 0.8 },
            t: { fill: "#ffffff", fontSize: 13, fontFamily: HEAD_FONT },
          },
        },
        0.92
      ),
      txt(fmt(last[3]), 1894, 26, { align: "right", fill: "#ffffff", fontSize: 18, fontWeight: "bold", fontFamily: HEAD_FONT }),
      { type: "polygon", z: 100, silent: true, shape: { points: [[1899, 32], [1906, 19], [1913, 32]] }, style: { fill: "#2fd42f" } },
      txt(
        `{l|O:} {v|${fmt(last[0])}}    {l|H:} {v|${fmt(last[1])}}    {l|L:} {v|${fmt(last[2])}}  {g|${change >= 0 ? "+" : ""}${fmt(change)} (${change >= 0 ? "+" : ""}${changePct.toFixed(2)}%)}`,
        1914,
        45,
        {
          align: "right",
          fontFamily: HEAD_FONT,
          rich: {
            l: { fill: "#b3bbc4", fontSize: 12, fontFamily: HEAD_FONT },
            v: { fill: "#ffffff", fontSize: 12, fontFamily: HEAD_FONT },
            g: { fill: "#3be03b", fontSize: 12, fontFamily: HEAD_FONT },
          },
        }
      ),
      // panel legends
      { type: "rect", z: 100, silent: true, shape: { x: 2, y: 58, width: 4, height: 14 }, style: { fill: "#ffffff" } },
      txt(`$GOLD (Weekly) ${last[3].toFixed(2)}`, 9, 65, { fill: "#ffffff", fontSize: 12, fontWeight: "bold", fontFamily: FONT }, 0.87),
      { type: "rect", z: 100, silent: true, shape: { x: 2, y: 74, width: 4, height: 14 }, style: { fill: "#ffffff" } },
      txt(
        `{b|SMA(64)} {n|${fmt(sma[n - 1])}}`,
        9,
        81,
        { rich: { b: { fill: "#fff", fontSize: 12, fontWeight: "bold", fontFamily: FONT }, n: { fill: "#fff", fontSize: 12, fontFamily: FONT } } },
        0.84
      ),
      { type: "rect", z: 100, silent: true, shape: { x: 2, y: 786, width: 4, height: 15 }, style: { fill: "#ffffff" } },
      txt(
        `{b|MACD(12,26,9)} {w|${macd[n - 1].toFixed(3)}}  {c|${signal[n - 1].toFixed(3)}}  {w|${hist[n - 1].toFixed(3)}}`,
        9,
        794,
        {
          rich: {
            b: { fill: "#fff", fontSize: 11.5, fontWeight: "bold", fontFamily: FONT },
            w: { fill: "#fff", fontSize: 11.5, fontFamily: FONT },
            c: { fill: "#7fd2ec", fontSize: 11.5, fontFamily: FONT },
          },
        },
        0.92
      ),
      { type: "rect", z: 100, silent: true, shape: { x: 2, y: 917, width: 4, height: 15 }, style: { fill: "#ffffff" } },
      txt(
        `{b|RSI(14)} {w|${rsi[n - 1].toFixed(2)}}`,
        9,
        925,
        { rich: { b: { fill: "#fff", fontSize: 11.5, fontWeight: "bold", fontFamily: FONT }, w: { fill: "#fff", fontSize: 11.5, fontFamily: FONT } } },
        0.88
      ),
      // note
      txt(noteText, 580, 211, { align: "center", fill: "#f2e600", fontSize: 14, fontWeight: "bold", fontStyle: "italic", fontFamily: 'Roboto, "Noto Sans", sans-serif' }),
    ],
  };
}

export default function App() {
  const ref = useRef<HTMLDivElement>(null);
  useEffect(() => {
    if (!ref.current) return;
    const chart = echarts.init(ref.current, null, { renderer: "svg", width: 1920, height: 1022 });
    chart.setOption(buildOption() as any);
    return () => chart.dispose();
  }, []);
  return (
    <div
      ref={ref}
      style={{ position: "absolute", left: 0, top: 0, width: 1920, height: 1022, background: BAND, overflow: "hidden" }}
    />
  );
}
